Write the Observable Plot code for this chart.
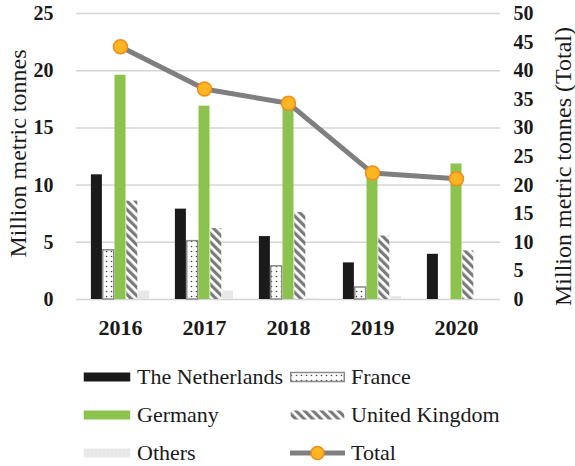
<!DOCTYPE html>
<html>
<head>
<meta charset="utf-8">
<script src="https://cdn.jsdelivr.net/npm/d3@7"></script>
<script src="https://cdn.jsdelivr.net/npm/@observablehq/plot@0.6"></script>
<style>
  body { margin: 0; background: #fff; font-family: "Liberation Serif", "Times New Roman", serif; color: #1a1a1a; }
  #wrap { position: relative; width: 575px; height: 466px; }
  #legend { position: absolute; left: 0; top: 358px; width: 575px; }
  .item { position: absolute; height: 38px; display: flex; align-items: center; font-size: 22px; white-space: nowrap; }
  .item svg { display: block; margin-right: 6px; }
</style>
</head>
<body>
<svg width="0" height="0" style="position:absolute">
  <defs>
    <pattern id="dots" width="5" height="5" patternUnits="userSpaceOnUse">
      <rect width="5" height="5" fill="#ffffff"></rect>
      <circle cx="1.5" cy="1.5" r="0.8" fill="#444"></circle>
    </pattern>
    <pattern id="stripes" width="6" height="6" patternUnits="userSpaceOnUse" patternTransform="rotate(-45)">
      <rect width="6" height="6" fill="#ffffff"></rect>
      <rect width="3.2" height="6" fill="#7a7a7a"></rect>
    </pattern>
    <pattern id="light" width="4" height="4" patternUnits="userSpaceOnUse">
      <rect width="4" height="4" fill="#e9e9e9"></rect>
      <circle cx="1" cy="1" r="0.6" fill="#dcdcdc"></circle>
    </pattern>
  </defs>
</svg>
<div id="wrap">
  <div id="chart"></div>
  <div id="legend"></div>
</div>
<script>
const years = ["2016", "2017", "2018", "2019", "2020"];
const netherlands = [10.9, 7.9, 5.5, 3.2, 3.95];
const france = [4.3, 5.1, 2.9, 1.05, 0];
const germany = [19.6, 16.9, 17.3, 11.2, 11.85];
const uk = [8.6, 6.2, 7.6, 5.55, 4.25];
const others = [0.75, 0.75, 0.1, 0.25, 0];
const total = [44.2, 36.8, 34.3, 22.1, 21.1];
const leftTicks = [0, 5, 10, 15, 20, 25];
const rightTicks = [0, 5, 10, 15, 20, 25, 30, 35, 40, 45, 50];

const series = [
  {name: "The Netherlands", values: netherlands, fill: "#1a1a1a", stroke: "none"},
  {name: "France", values: france, fill: "url(#dots)", stroke: "#8a8a8a"},
  {name: "Germany", values: germany, fill: "#8cc34f", stroke: "none"},
  {name: "United Kingdom", values: uk, fill: "url(#stripes)", stroke: "none"},
  {name: "Others", values: others, fill: "url(#light)", stroke: "none"}
];

const W = 575, H = 350;
const mL = 76, mR = 75, mT = 13, mB = 51;
const band = (W - mL - mR) / years.length;
const barW = 11.8;
const groupStart = (band - barW * series.length) / 2;

const barMarks = series.map((s, i) => {
  const rows = years.map((y, j) => ({year: y, v: s.values[j]})).filter(d => d.v > 0);
  return Plot.barY(rows, {
    x: "year", y: "v",
    fill: s.fill, stroke: s.stroke, strokeWidth: s.stroke === "none" ? 0 : 1.5,
    insetLeft: groupStart + barW * i,
    insetRight: band - groupStart - barW * (i + 1)
  });
});

const totalRows = years.map((y, j) => ({year: y, v: total[j] / 2}));

const chart = Plot.plot({
  width: W, height: H,
  marginLeft: mL, marginRight: mR, marginTop: mT, marginBottom: mB,
  style: {fontFamily: '"Liberation Serif", "Times New Roman", serif', color: "#1a1a1a", background: "#fff", overflow: "visible"},
  x: {type: "band", domain: years, padding: 0},
  y: {domain: [0, 25]},
  marks: [
    Plot.gridY(leftTicks, {stroke: "#d4d4d4", strokeOpacity: 1, strokeWidth: 1.5}),
    ...barMarks,
    Plot.line(totalRows, {x: "year", y: "v", stroke: "#7f7f7f", strokeWidth: 5}),
    Plot.dot(totalRows, {x: "year", y: "v", r: 7, fill: "#fdb622", stroke: "#f28c1e", strokeWidth: 1.5}),
    Plot.axisX({tickSize: 0, tickPadding: 20, fontSize: 22, fontWeight: "bold", label: null}),
    Plot.axisY(leftTicks, {tickSize: 0, tickPadding: 23, fontSize: 20, fontWeight: "bold", label: null}),
    Plot.axisY(rightTicks.map(d => d / 2), {anchor: "right", tickSize: 0, tickPadding: 13, fontSize: 20, fontWeight: "bold", label: null, tickFormat: d => String(d * 2)}),
    Plot.text(["Million metric tonnes"], {frameAnchor: "left", textAnchor: "middle", rotate: -90, dx: -58, dy: -3, fontSize: 24, fill: "#1a1a1a"}),
    Plot.text(["Million metric tonnes (Total)"], {frameAnchor: "right", textAnchor: "middle", rotate: -90, dx: 63, dy: 10, fontSize: 24, fill: "#1a1a1a"})
  ]
});
document.getElementById("chart").appendChild(chart);

// Legend
const legend = document.getElementById("legend");
const legendItems = [
  {name: "The Netherlands", kind: "bar", fill: "#1a1a1a", stroke: "none", col: 0, row: 0},
  {name: "France", kind: "bar", fill: "url(#dots)", stroke: "#8a8a8a", col: 1, row: 0},
  {name: "Germany", kind: "bar", fill: "#8cc34f", stroke: "none", col: 0, row: 1},
  {name: "United Kingdom", kind: "bar", fill: "url(#stripes)", stroke: "none", col: 1, row: 1},
  {name: "Others", kind: "bar", fill: "url(#light)", stroke: "none", col: 0, row: 2},
  {name: "Total", kind: "line", col: 1, row: 2}
];
const colLeft = [83, 290];
const swW = [48, 55];
legendItems.forEach(it => {
  const div = document.createElement("div");
  div.className = "item";
  div.style.left = colLeft[it.col] + "px";
  div.style.top = (it.row * 38) + "px";
  const w = swW[it.col];
  const s = d3.create("svg").attr("width", w).attr("height", 16);
  if (it.kind === "bar") {
    s.append("rect").attr("x", 0.75).attr("y", 3.5).attr("width", w - 1.5).attr("height", 9)
      .attr("fill", it.fill).attr("stroke", it.stroke).attr("stroke-width", it.stroke === "none" ? 0 : 1.5);
  } else {
    s.append("line").attr("x1", 0).attr("x2", w).attr("y1", 8).attr("y2", 8)
      .attr("stroke", "#7f7f7f").attr("stroke-width", 5).attr("stroke-linecap", "round");
    s.append("circle").attr("cx", w / 2).attr("cy", 8).attr("r", 6.5)
      .attr("fill", "#fdb622").attr("stroke", "#f28c1e").attr("stroke-width", 1.5);
  }
  div.appendChild(s.node());
  const span = document.createElement("span");
  span.textContent = it.name;
  div.appendChild(span);
  legend.appendChild(div);
});
</script>
</body>
</html>
